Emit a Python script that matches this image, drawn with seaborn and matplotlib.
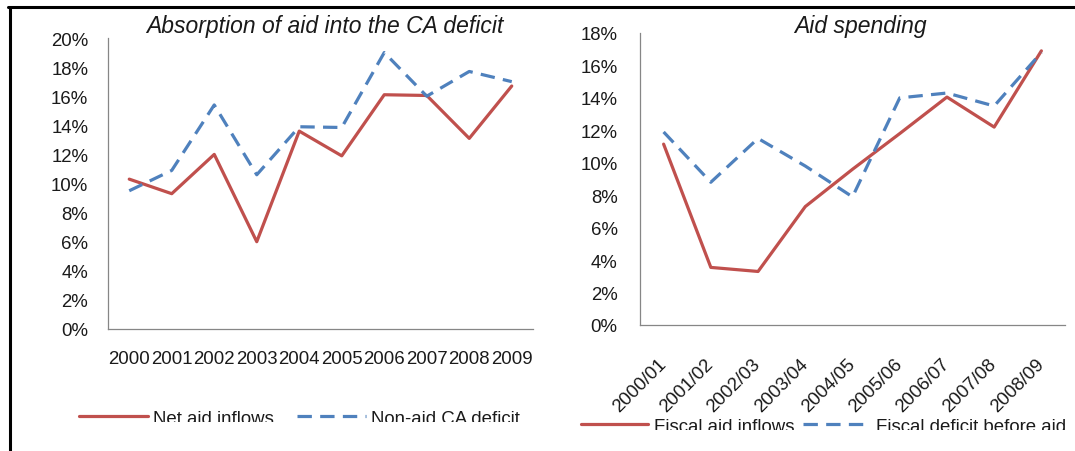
import numpy as np
import pandas as pd
import matplotlib
matplotlib.use("Agg")
import matplotlib.pyplot as plt
import seaborn as sns
from matplotlib.lines import Line2D
from matplotlib.ticker import FixedLocator, PercentFormatter
from matplotlib.transforms import Bbox, TransformedBbox

# Données (en %)
years = ["2000", "2001", "2002", "2003", "2004", "2005", "2006", "2007", "2008", "2009"]
net_aid = [10.3, 9.3, 12.0, 6.0, 13.6, 11.9, 16.1, 16.05, 13.1, 16.7]
non_aid_ca = [9.5, 10.9, 15.4, 10.6, 13.9, 13.85, 19.0, 16.0, 17.7, 17.0]

fiscal_years = ["2000/01", "2001/02", "2002/03", "2003/04", "2004/05",
                "2005/06", "2006/07", "2007/08", "2008/09"]
fiscal_aid = [11.15, 3.55, 3.3, 7.3, 9.6, 11.8, 14.05, 12.2, 16.9]
deficit_before_aid = [11.9, 8.8, 11.5, 9.8, 7.9, 14.0, 14.3, 13.5, 16.8]

RED = "#C0504D"
BLUE = "#4F81BD"
GREY = "#868686"
TXT = "#1a1a1a"
FS = 13.4

sns.set_style("white")
plt.rcParams["font.family"] = ["Liberation Sans", "DejaVu Sans"]

W, H = 1075, 452
fig = plt.figure(figsize=(W / 100, H / 100), dpi=100)

ax1 = fig.add_axes([108 / W, (H - 330) / H, 425 / W, (330 - 39) / H])
ax2 = fig.add_axes([640 / W, (H - 326) / H, 425 / W, (326 - 34) / H])


def draw(ax, cats, s1, s2, n1, n2):
    n = len(cats)
    df = pd.DataFrame({
        "pos": np.tile(np.arange(n), 2),
        "value": list(s1) + list(s2),
        "series": [n1] * n + [n2] * n,
    })
    sns.lineplot(data=df, x="pos", y="value", hue="series", style="series",
                 palette={n1: RED, n2: BLUE},
                 dashes={n1: "", n2: (4.5, 2.6)},
                 linewidth=2.3, ax=ax, legend=False)
    ax.set_xlim(-0.5, n - 0.5)
    ax.xaxis.set_major_locator(FixedLocator(np.arange(-0.5, n, 1.0)))
    ax.xaxis.set_minor_locator(FixedLocator(np.arange(n)))
    ax.set_xticklabels([], minor=False)
    ax.set_xticklabels(cats, minor=True)
    ax.set_xlabel("")
    ax.set_ylabel("")
    ax.yaxis.set_major_formatter(PercentFormatter(decimals=0))
    for s in ["top", "right"]:
        ax.spines[s].set_visible(False)
    for s in ["left", "bottom"]:
        ax.spines[s].set_color(GREY)
        ax.spines[s].set_linewidth(0.9)
    ax.tick_params(which="major", direction="out", length=3.2, width=0.9,
                   color=GREY, labelsize=FS, labelcolor=TXT)
    ax.tick_params(axis="x", which="minor", length=0, labelsize=FS, labelcolor=TXT)
    return ax


draw(ax1, years, net_aid, non_aid_ca, "Net aid inflows", "Non-aid CA deficit")
ax1.set_ylim(0, 20)
ax1.set_yticks(np.arange(0, 21, 2))
ax1.tick_params(axis="y", pad=11)
ax1.tick_params(axis="x", which="minor", pad=15)

draw(ax2, fiscal_years, fiscal_aid, deficit_before_aid,
     "Fiscal aid inflows", "Fiscal deficit before aid")
ax2.set_ylim(0, 18)
ax2.set_yticks(np.arange(0, 19, 2))
ax2.tick_params(axis="y", pad=13)
ax2.tick_params(axis="x", which="minor", pad=26)
for lab in ax2.get_xticklabels(minor=True):
    lab.set_rotation(45)
    lab.set_rotation_mode("anchor")
    lab.set_ha("right")
    lab.set_va("center")

# Titres
fig.text(325 / W, 1 - 33 / H, "Absorption of aid into the CA deficit",
         ha="center", va="baseline", fontsize=16.5, style="italic", color=TXT)
fig.text(860 / W, 1 - 33 / H, "Aid spending",
         ha="center", va="baseline", fontsize=16.5, style="italic", color=TXT)

# Légendes (coupées en bas comme dans l'original)
leg1 = fig.legend(handles=ax1.get_lines()[:2], labels=["Net aid inflows", "Non-aid CA deficit"],
                  loc="center left", bbox_to_anchor=(79 / W, 1 - 419 / H), ncol=2,
                  frameon=False, fontsize=FS, handlelength=3.7, handletextpad=0.3,
                  columnspacing=1.2, borderpad=0, borderaxespad=0)
leg2 = fig.legend(handles=ax2.get_lines()[:2], labels=["Fiscal aid inflows", "Fiscal deficit before aid"],
                  loc="center left", bbox_to_anchor=(581 / W, 1 - 427 / H), ncol=2,
                  frameon=False, fontsize=FS, handlelength=3.6, handletextpad=0.3,
                  columnspacing=0.5, borderpad=0, borderaxespad=0)
clip1 = TransformedBbox(Bbox([[0, 29 / H], [0.52, 1]]), fig.transFigure)
clip2 = TransformedBbox(Bbox([[0.52, 21 / H], [1, 1]]), fig.transFigure)
for leg, clip in [(leg1, clip1), (leg2, clip2)]:
    for t in leg.get_texts():
        t.set_color(TXT)
        t.set_clip_on(True)
        t.set_clip_box(clip)

# Cadre noir (haut et gauche)
fig.add_artist(Line2D([8 / W, 1], [1 - 7.5 / H, 1 - 7.5 / H], transform=fig.transFigure,
                      color="black", lw=2.2))
fig.add_artist(Line2D([9.5 / W, 9.5 / W], [0, 1 - 7.5 / H], transform=fig.transFigure,
                      color="black", lw=2.2))

fig.savefig("out.png", dpi=100)
